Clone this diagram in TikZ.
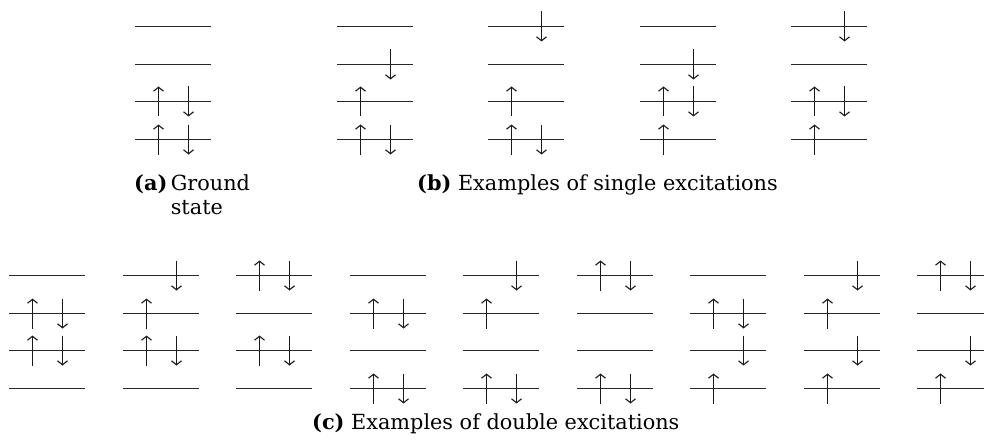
\documentclass[tikz,border=0pt]{standalone}
\usepackage{fontspec}
\setmainfont{DejaVu Serif}
\usetikzlibrary{arrows.meta}
\tikzset{
  level/.style={line width=1.25pt, black!85},
  spin/.style={line width=1.25pt, black!90, -{Straight Barb[length=4pt,width=10pt,line width=1.1pt]}},
  capt/.style={anchor=base west, inner sep=0pt, font=\fontsize{20.8}{24}\selectfont}
}
% #1 = x of left end, #2 = y of top level, #3 = list of up/down flags per level
\newcommand\mdiag[3]{%
  \foreach \u/\d [count=\i from 0] in {#3} {%
    \pgfmathsetmacro\yy{#2+round(\i*37.7)+0.5}%
    \pgfmathsetmacro\xu{#1+23.5}%
    \pgfmathsetmacro\xd{#1+53.5}%
    \draw[level] (#1,\yy) -- ++(76,0);
    \ifnum\u=1 \draw[spin] (\xu,\yy+15) -- (\xu,\yy-15);\fi
    \ifnum\d=1 \draw[spin] (\xd,\yy-15) -- (\xd,\yy+15);\fi
  }%
}
\begin{document}
\begin{tikzpicture}[x=1pt,y=-1pt]
\useasboundingbox (0,0) rectangle (984,441);
% (a) ground state
\mdiag{135}{26}{0/0,0/0,1/1,1/1}
% (b) single excitations
\mdiag{337}{26}{0/0,0/1,1/0,1/1}
\mdiag{488}{26}{0/1,0/0,1/0,1/1}
\mdiag{640}{26}{0/0,0/1,1/1,1/0}
\mdiag{791}{26}{0/1,0/0,1/1,1/0}
% (c) double excitations
\mdiag{9}{275}{0/0,1/1,1/1,0/0}
\mdiag{123}{275}{0/1,1/0,1/1,0/0}
\mdiag{236}{275}{1/1,0/0,1/1,0/0}
\mdiag{350}{275}{0/0,1/1,0/0,1/1}
\mdiag{463}{275}{0/1,1/0,0/0,1/1}
\mdiag{577}{275}{1/1,0/0,0/0,1/1}
\mdiag{690}{275}{0/0,1/1,0/1,1/0}
\mdiag{804}{275}{0/1,1/0,0/1,1/0}
\mdiag{917}{275}{1/1,0/0,0/1,1/0}
% captions
\node[capt] (capa) at (134,190) {\begin{tabular}[t]{@{}l@{\,}l@{}}\textbf{(a)} & Ground\\ & state\end{tabular}};
\node[capt] (capb) at (417,190) {\textbf{(b)} Examples of single excitations};
\node[capt] (capc) at (312,429) {\textbf{(c)} Examples of double excitations};
\end{tikzpicture}
\end{document}
